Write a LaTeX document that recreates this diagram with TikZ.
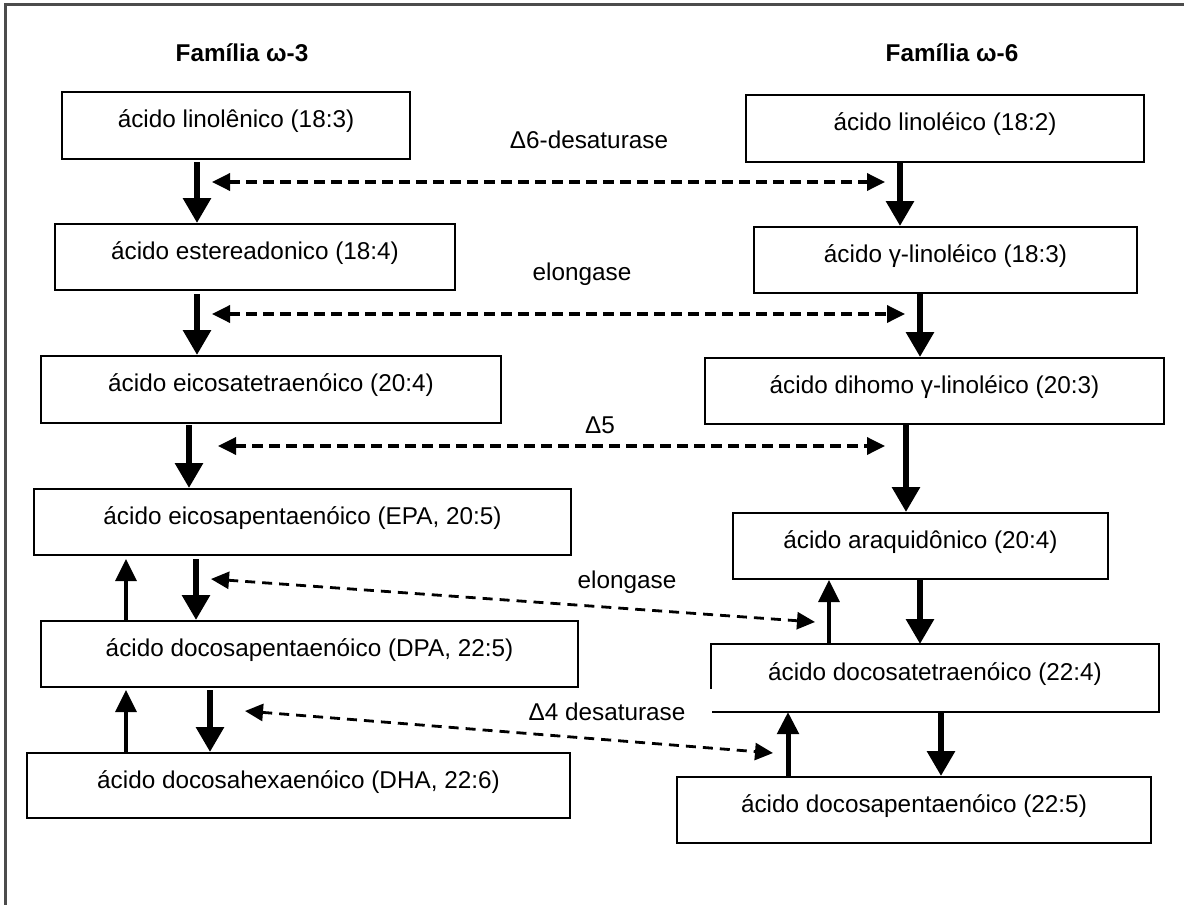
\documentclass[tikz,border=0pt]{standalone}
\usepackage{fontspec}
\setmainfont{Liberation Sans}
\usetikzlibrary{arrows.meta}
\newcommand{\fs}{\fontsize{24.3}{29}\selectfont}
\begin{document}
\begin{tikzpicture}[x=1pt,y=-1pt,
  box/.style={draw, line width=2pt, inner sep=0pt, anchor=north west, text height=35pt, font=\fs},
  hdr/.style={font=\bfseries\fs, anchor=base},
  lab/.style={font=\fs, anchor=base},
  fat/.style={line width=6pt, -{Triangle[length=25pt,width=27pt]}},
  slim/.style={line width=3.2pt, -{Triangle[length=22pt,width=21pt]}},
  mid/.style={line width=5pt, -{Triangle[length=22pt,width=21pt]}},
  dsh/.style={line width=3.5pt, dash pattern=on 11pt off 6pt, {Triangle[length=18pt,width=17pt]}-{Triangle[length=18pt,width=17pt]}},
  dshb/.style={line width=2.8pt, dash pattern=on 10pt off 7pt, {Triangle[length=18pt,width=17pt]}-{Triangle[length=18pt,width=17pt]}}
]
\useasboundingbox (0,0) rectangle (1184,905);
% frame
\draw[line width=3pt, draw=black!70] (5,905) -- (5,4) -- (1184,4);

% headers
\node[hdr] (h3) at (242,61) {Família ω-3};
\node[hdr] (h6) at (952,61) {Família ω-6};

% left column
\node[box, minimum width=348pt, text depth=32pt] (L1) at (61,91) {ácido linolênico (18:3)};
\node[box, minimum width=400pt, text depth=31pt] (L2) at (54,223) {ácido estereadonico (18:4)};
\node[box, minimum width=460pt, text depth=32pt] (L3) at (40,355) {ácido eicosatetraenóico (20:4)};
\node[box, minimum width=537pt, text depth=31pt] (L4) at (33,488) {ácido eicosapentaenóico (EPA, 20:5)};
\node[box, minimum width=537pt, text depth=31pt] (L5) at (40,620) {ácido docosapentaenóico (DPA, 22:5)};
\node[box, minimum width=543pt, text depth=30pt] (L6) at (26,752) {ácido docosahexaenóico (DHA, 22:6)};

% right column
\node[box, minimum width=398pt, text depth=32pt] (R1) at (745,94) {ácido linoléico (18:2)};
\node[box, minimum width=383pt, text depth=31pt] (R2) at (753,226) {ácido γ-linoléico (18:3)};
\node[box, minimum width=459pt, text depth=31pt] (R3) at (704,357) {ácido dihomo γ-linoléico (20:3)};
\node[box, minimum width=375pt, text depth=31pt] (R4) at (732,512) {ácido araquidônico (20:4)};
\node[box, draw=none, minimum width=446pt, text depth=31pt] (R5) at (711,644) {ácido docosatetraenóico (22:4)};
\draw[line width=2pt] ([yshift=23pt]R5.south west) -- (R5.north west) -- (R5.north east) -- (R5.south east) -- ([xshift=1pt]R5.south west);
\node[box, minimum width=474pt, text depth=31pt] (R6) at (676,776) {ácido docosapentaenóico (22:5)};

% enzyme labels
\node[lab] (e1) at (589,148) {Δ6-desaturase};
\node[lab] (e2) at (582,280) {elongase};
\node[lab] (e3) at (600,433) {Δ5};
\node[lab] (e4) at (627,588) {elongase};
\node[lab] (e5) at (607,720) {Δ4 desaturase};

% arrow x positions
\coordinate (xa1) at (197,0);
\coordinate (xa3) at (189,0);
\coordinate (xa4) at (196,0);
\coordinate (xa5) at (210,0);
\coordinate (xu)  at (126,0);
\coordinate (xb1) at (900,0);
\coordinate (xb2) at (920,0);
\coordinate (xb3) at (906,0);
\coordinate (xb5) at (941,0);
\coordinate (xv1) at (829,0);
\coordinate (xv2) at (788,0);

% left chain
\draw[fat] ([yshift=-2pt]L1.south -| xa1) -- (L2.north -| xa1);
\draw[fat] ([yshift=-3pt]L2.south -| xa1) -- (L3.north -| xa1);
\draw[fat] ([yshift=-1pt]L3.south -| xa3) -- (L4.north -| xa3);
\draw[fat] ([yshift=-3pt]L4.south -| xa4) -- (L5.north -| xa4);
\draw[fat] ([yshift=-2pt]L5.south -| xa5) -- (L6.north -| xa5);
\draw[slim] (L5.north -| xu) -- ([yshift=-3pt]L4.south -| xu);
\draw[slim] (L6.north -| xu) -- ([yshift=-2pt]L5.south -| xu);

% right chain
\draw[fat] (R1.south -| xb1) -- (R2.north -| xb1);
\draw[fat] (R2.south -| xb2) -- (R3.north -| xb2);
\draw[fat] (R3.south -| xb3) -- (R4.north -| xb3);
\draw[fat] (R4.south -| xb2) -- (R5.north -| xb2);
\draw[fat] (R5.south -| xb5) -- (R6.north -| xb5);
\draw[slim] (R5.north -| xv1) -- (R4.south -| xv1);
\draw[mid] (R6.north -| xv2) -- (R5.south -| xv2);

% enzyme dashed arrows
\coordinate (d1a) at (212,182); \coordinate (d1b) at (885,182);
\coordinate (d2a) at (212,314); \coordinate (d2b) at (905,314);
\coordinate (d3a) at (218,446); \coordinate (d3b) at (885,446);
\coordinate (d4a) at (211,579); \coordinate (d4b) at (815,622);
\coordinate (d5a) at (245,711); \coordinate (d5b) at (773,753);
\draw[dsh] (d1a) -- (d1b);
\draw[dsh] (d2a) -- (d2b);
\draw[dsh] (d3a) -- (d3b);
\draw[dshb] (d4a) -- (d4b);
\draw[dshb] (d5a) -- (d5b);
\end{tikzpicture}
\end{document}
